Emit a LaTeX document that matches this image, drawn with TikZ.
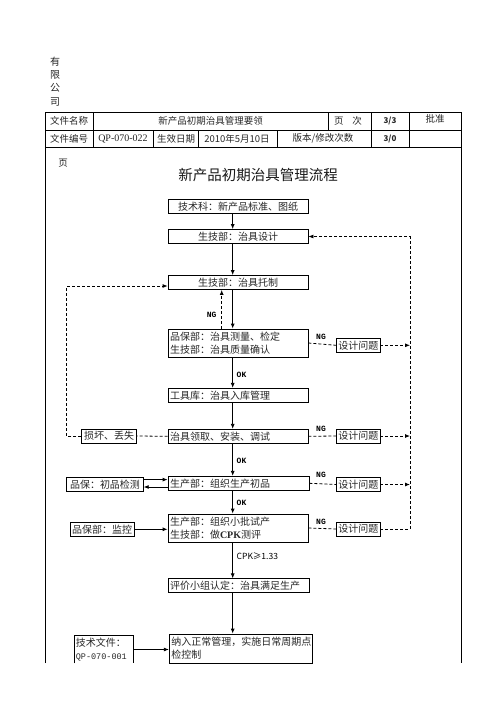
\documentclass[tikz,border=0pt]{standalone}
\usepackage{fontspec}
\setmainfont{Liberation Serif}
\newfontfamily\cjk{Noto Sans CJK SC}
\newfontfamily\mono{Liberation Mono}
\usepackage{tikz}
\usetikzlibrary{arrows.meta}
\tikzstyle{flowbox}=[draw,line width=0.8pt,text width=136pt,inner xsep=2pt,inner ysep=1pt,minimum height=14pt,align=left,font=\cjk\fontsize{10}{13.3}\selectfont,text=black!85]
\tikzstyle{sidebox}=[draw,line width=0.8pt,inner xsep=1.5pt,inner ysep=1pt,minimum height=14pt,font=\cjk\fontsize{10}{13.3}\selectfont,text=black!85]
\tikzstyle{cell}=[font=\cjk\fontsize{9.5}{11}\selectfont,text=black!85,inner sep=0pt]
\tikzstyle{tag}=[font=\mono\bfseries\fontsize{8}{9}\selectfont,text=black,inner sep=0pt]
\tikzstyle{flow}=[line width=0.8pt,-{Latex[length=5pt,width=4pt]}]
\tikzstyle{back}=[line width=0.8pt,dash pattern=on 3pt off 2pt]

\begin{document}
\begin{tikzpicture}[x=1pt,y=-1pt]
\useasboundingbox (0,0) rectangle (496,702);
% company name, written top to bottom
\foreach \ch [count=\i] in {有,限,公,司}
  \node[cell,font=\cjk\fontsize{10}{10}\selectfont] (co\i) at (55,48.3+13.3*\i) {\ch};

% header table
\draw[line width=0.8pt] (45,663) -- (45,112.7) -- (461,112.7) -- (461,663);
\draw[line width=0.8pt] (45,130) -- (461,130);
\draw[line width=0.8pt] (45,147.3) -- (461,147.3);
\foreach \x in {93,371,409}
  \draw[line width=0.8pt] (\x,112.7) -- (\x,147.3);
\draw[line width=0.8pt] (328,112.7) -- (328,130);
\foreach \x in {153.5,198,277}
  \draw[line width=0.8pt] (\x,130) -- (\x,147.3);

\node[cell] (hname) at (69,121.3) {文件名称};
\node[cell] (htitle) at (210.5,121.3) {新产品初期治具管理要领};
\node[cell] (hpage) at (348,121.3) {页\hspace{9pt}次};
\node[cell,font=\cjk\bfseries\fontsize{8}{9}\selectfont] (hpageno) at (390,121.3) {3/3};
\node[cell] (hsign) at (435,118.5) {批准};
\node[cell] (hno) at (69,138.7) {文件编号};
\node[cell,font=\rmfamily\fontsize{10}{11}\selectfont] (hcode) at (123,138.7) {QP-070-022};
\node[cell] (hdate) at (176,138.7) {生效日期};
\node[cell] (hday) at (237,138.7) {2010年5月10日};
\node[cell] (hrev) at (323,138.7) {版本/修改次数};
\node[cell,font=\cjk\bfseries\fontsize{8}{9}\selectfont] (hrevno) at (390,138.7) {3/0};
\node[cell] (hye) at (63,163) {页};

\node[cell,font=\cjk\fontsize{14.5}{16}\selectfont,text=black!90] (title) at (258,175) {新产品初期治具管理流程};

% main flow
\node[flowbox,align=center] (std) at (238,206.5) {技术科：新产品标准、图纸};
\node[flowbox,align=center] (design) at (238,236.5) {生技部：治具设计};
\node[flowbox,align=center] (make) at (238,282.5) {生技部：治具托制};
\node[flowbox,minimum height=28pt] (measure) at (238,343) {品保部：治具测量、检定\\生技部：治具质量确认};
\node[flowbox] (store) at (238,395.3) {工具库：治具入库管理};
\node[flowbox] (install) at (238,436.3) {治具领取、安装、调试};
\node[flowbox,text width=137pt] (sample) at (238.5,483.3) {生产部：组织生产初品};
\node[flowbox,minimum height=28pt] (trial) at (238,528) {生产部：组织小批试产\\生技部：做{\rmfamily\bfseries CPK}测评};
\node[flowbox,text width=137pt] (approve) at (238.5,585.8) {评价小组认定：治具满足生产};
\node[flowbox,text width=139.5pt,minimum height=29pt] (routine) at (241,648.5) {纳入正常管理，实施日常周期点\\检控制};

% boxes at the sides
\foreach \k/\y in {1/345.3,2/436,3/484.5,4/529}
  \node[sidebox,minimum width=43.3pt] (issue\k) at (358.3,\y) {设计问题};
\node[sidebox,minimum width=55pt] (loss) at (109.2,436) {损坏、丢失};
\node[sidebox,minimum width=76.6pt] (firstqc) at (105,484.5) {品保：初品检测};
\node[sidebox,minimum width=64pt] (monitor) at (102,529.3) {品保部：监控};
\node[sidebox,draw=none,text width=55.4pt,align=left,minimum height=27pt] (docref) at (103.5,649.5) {技术文件：\\{\mono\fontsize{8.5}{13.3}\selectfont QP-070-001}};
\draw[line width=0.8pt] (docref.south west) |- (docref.north east) -- (docref.south east);

\coordinate (spine) at (232.7,0);
\coordinate (ngline) at (221.7,0);
\coordinate (rail) at (410,0);
\coordinate (lrail) at (66.7,0);

\foreach \a/\b in {std/design,design/make,make/measure,measure/store,store/install,install/sample,sample/trial,trial/approve,approve/routine}
  \draw[flow] (\a.south -| spine) -- (\b.north -| spine);

% NG back to tooling
\draw[flow,back] (measure.north -| ngline) -- (make.south -| ngline);
\node[tag] (ng0) at (211.7,315) {NG};

% design problems back to design
\foreach \a/\k in {measure/1,install/2,sample/3,trial/4}
  \draw[back] (\a.east) -- (issue\k.west);
\foreach \k in {1,2,3}
  \draw[flow,back] (issue\k.east) -- (issue\k.east -| rail);
\draw[flow,back] (issue4.east) -- (issue4.east -| rail) -- (rail |- design.east) -- (design.east);
\foreach \k/\y in {1/336.7,2/429,3/475,4/521.7}
  \node[tag] (ng\k) at (321,\y) {NG};

% damage or loss back to tooling
\coordinate (mk) at ([yshift=-3.5pt]make.west);
\draw[back] (install.west) -- (loss.east);
\draw[flow,back] (loss.west) -- (loss.west -| lrail) -- (lrail |- mk) -- (mk);

% first article check
\coordinate (qcin) at ([yshift=3.7pt]sample.west);
\coordinate (qcout) at ([yshift=-3.7pt]sample.west);
\draw[flow] (firstqc.east |- qcin) -- (qcin);
\draw[flow] (qcout) -- (firstqc.east |- qcout);
\draw[flow] (monitor.east) -- (monitor.east -| trial.west);
\draw[flow] (docref.east) -- (docref.east -| routine.west);

\node[tag,anchor=west] (ok1) at (236.5,375) {OK};
\node[tag,anchor=west] (ok2) at (236.5,460.7) {OK};
\node[tag,anchor=west] (ok3) at (236.5,502.7) {OK};
\node[tag,anchor=west,font=\cjk\fontsize{8.5}{9}\selectfont] (cpk) at (236.5,556.7) {CPK≥1.33};
\end{tikzpicture}
\end{document}
